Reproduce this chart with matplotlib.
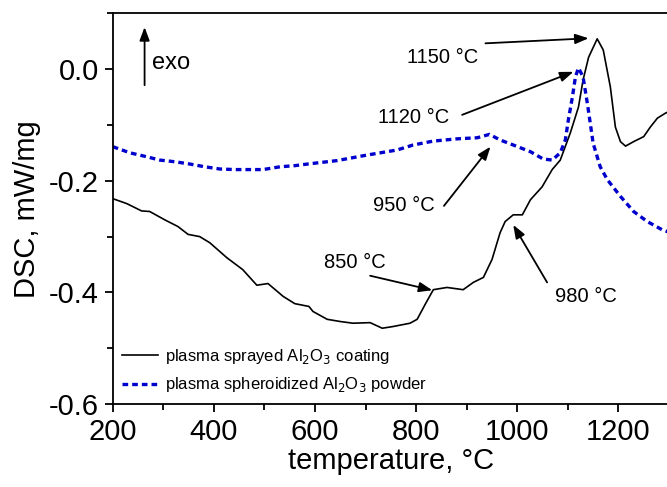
import matplotlib
matplotlib.use("Agg")
from matplotlib import pyplot as plt
from matplotlib.ticker import MultipleLocator

plt.rcParams['font.family'] = ['Liberation Sans', 'DejaVu Sans']
plt.rcParams['axes.unicode_minus'] = False

# plasma sprayed coating (black, solid)
coat_t = [200, 228, 257, 273, 303, 329, 349, 372, 392, 426, 457, 485, 507, 537, 560,
          588, 596, 624, 650, 675, 709, 733, 754, 788, 802, 818, 834, 861, 893, 913,
          933, 950, 966, 976, 992, 1010, 1026, 1049, 1069, 1085, 1105, 1121, 1130,
          1141, 1158, 1170, 1184, 1194, 1204, 1214, 1230, 1250, 1263, 1277, 1293, 1300]
coat_dsc = [-0.232, -0.241, -0.254, -0.255, -0.270, -0.282, -0.296, -0.300, -0.311,
            -0.338, -0.359, -0.387, -0.384, -0.407, -0.420, -0.425, -0.434, -0.448,
            -0.452, -0.455, -0.454, -0.464, -0.461, -0.455, -0.448, -0.421, -0.395,
            -0.391, -0.395, -0.382, -0.373, -0.341, -0.293, -0.273, -0.261, -0.261,
            -0.234, -0.211, -0.180, -0.163, -0.114, -0.068, -0.020, 0.021, 0.054,
            0.034, -0.032, -0.104, -0.130, -0.138, -0.130, -0.121, -0.104, -0.088,
            -0.079, -0.076]

# plasma spheroidized powder (blue, dashed)
powd_t = [200, 234, 267, 293, 323, 352, 382, 412, 442, 471, 497, 531, 560, 586, 643,
          703, 762, 794, 834, 881, 921, 945, 966, 992, 1026, 1051, 1069, 1085, 1095,
          1101, 1109, 1115, 1121, 1130, 1139, 1150, 1164, 1178, 1204, 1230, 1257,
          1287, 1300]
powd_dsc = [-0.139, -0.150, -0.157, -0.163, -0.166, -0.170, -0.175, -0.179, -0.180,
            -0.180, -0.180, -0.175, -0.173, -0.170, -0.164, -0.154, -0.145, -0.136,
            -0.129, -0.125, -0.123, -0.117, -0.127, -0.136, -0.148, -0.161, -0.163,
            -0.150, -0.127, -0.091, -0.050, -0.014, 0.002, -0.014, -0.064, -0.133,
            -0.175, -0.198, -0.228, -0.255, -0.273, -0.288, -0.292]

# annotations: label, text pos, arrow tail, arrow head
notes = [
    ("1150 °C", (853, 0.021), (937, 0.046), (1141, 0.055)),
    ("1120 °C", (796, -0.086), (891, -0.082), (1111, -0.005)),
    ("950 °C", (776, -0.245), (855, -0.245), (947, -0.139)),
    ("850 °C", (679, -0.346), (709, -0.370), (832, -0.396)),
    ("980 °C", (1135, -0.407), (1059, -0.382), (992, -0.279)),
]

fig = plt.figure(figsize=(6.67, 4.87), dpi=100)
ax = fig.add_axes([0.169, 0.170, 0.834, 0.803])

ax.plot(coat_t, coat_dsc, c='black', lw=1.2,
        label='plasma sprayed Al$_2$O$_3$ coating')
ax.plot(powd_t, powd_dsc, c='#0000cc', lw=2.4, linestyle=(0, (1.7, 1.2)),
        label='plasma spheroidized Al$_2$O$_3$ powder')

for label, tpos, tail, head in notes:
    ax.text(tpos[0], tpos[1], label, fontsize=14.5, ha='center', va='center')
    ax.annotate('', xy=head, xytext=tail,
                arrowprops=dict(arrowstyle='-|>,head_length=0.8,head_width=0.3',
                                color='black', lw=1.3, shrinkA=0, shrinkB=0))

# exo arrow
ax.annotate('', xy=(263, 0.075), xytext=(263, -0.029),
            arrowprops=dict(arrowstyle='-|>,head_length=0.8,head_width=0.3',
                            color='black', lw=1.3, shrinkA=0, shrinkB=0))
ax.text(277, 0.011, 'exo', fontsize=17, ha='left', va='center')

ax.set_xlim(200, 1300)
ax.set_ylim(-0.6, 0.1)
ax.xaxis.set_major_locator(MultipleLocator(200))
ax.xaxis.set_minor_locator(MultipleLocator(100))
ax.yaxis.set_major_locator(MultipleLocator(0.2))
ax.yaxis.set_minor_locator(MultipleLocator(0.1))
ax.yaxis.set_major_formatter(matplotlib.ticker.FormatStrFormatter('%.1f'))
ax.tick_params(axis='both', which='major', labelsize=21, length=6, width=1.3, pad=4)
ax.tick_params(axis='both', which='minor', length=4, width=1.3)
ax.spines['right'].set_visible(False)
for s in ['left', 'bottom', 'top']:
    ax.spines[s].set_linewidth(1.3)

ax.set_xlabel('temperature, °C', fontsize=21, labelpad=1)
ax.set_ylabel('DSC, mW/mg', fontsize=21, labelpad=6)

ax.legend(loc='lower left', fontsize=12, frameon=False, handlelength=2.2,
          borderaxespad=0.3, labelspacing=0.55, handletextpad=0.4,
          bbox_to_anchor=(-0.005, -0.005))

plt.savefig('out.png', dpi=100)
